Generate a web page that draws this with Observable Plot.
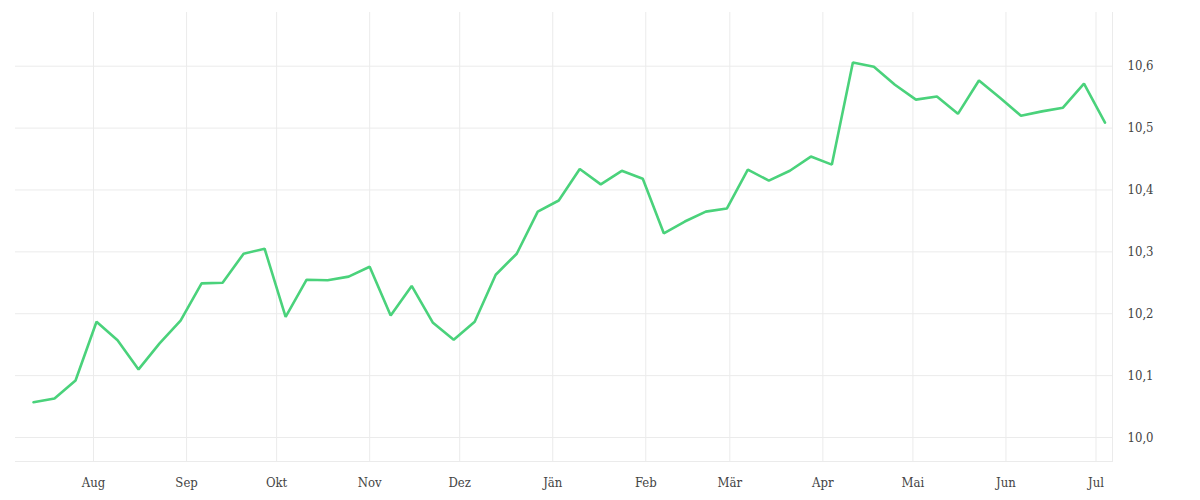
<!DOCTYPE html>
<html>
<head>
<meta charset="utf-8">
<script src="https://cdn.jsdelivr.net/npm/d3@7"></script>
<script src="https://cdn.jsdelivr.net/npm/@observablehq/plot@0.6"></script>
<style>
  html, body { margin: 0; padding: 0; background: #fff; }
  #chart { width: 1200px; height: 500px; }
</style>
</head>
<body>
<div id="chart"></div>
<script>
// Weekly observations (start date + 7 days each)
const startDate = "2022-07-12";
const values = [
  10.057, 10.063, 10.092, 10.187, 10.157, 10.110, 10.152, 10.189, 10.249, 10.250,
  10.297, 10.305, 10.195, 10.255, 10.254, 10.260, 10.276, 10.197, 10.245, 10.186,
  10.158, 10.187, 10.263, 10.297, 10.365, 10.383, 10.434, 10.409, 10.431, 10.418,
  10.330, 10.349, 10.365, 10.370, 10.433, 10.415, 10.431, 10.454, 10.441, 10.606,
  10.599, 10.570, 10.546, 10.551, 10.523, 10.577, 10.549, 10.520, 10.527, 10.533,
  10.572, 10.509
];
const monthLabels = ["Jän","Feb","Mär","Apr","Mai","Jun","Jul","Aug","Sep","Okt","Nov","Dez"];
const yTicks = [10.0, 10.1, 10.2, 10.3, 10.4, 10.5, 10.6];
const xDomain = ["2022-07-06", "2023-07-06T12:00"];
const yDomain = [9.9612, 10.6868];

const d0 = new Date(startDate + "T00:00");
const data = values.map((v, i) => ({date: d3.timeDay.offset(d0, 7 * i), value: v}));

const font = "'DejaVu Serif Condensed', 'DejaVu Serif', serif";
const gridColor = "#ebebeb";

const chart = Plot.plot({
  width: 1200,
  height: 500,
  marginLeft: 15,
  marginRight: 88,
  marginTop: 12,
  marginBottom: 39,
  style: {fontFamily: font, fontSize: "13px", color: "#444", background: "#fff"},
  x: {
    type: "utc",
    domain: xDomain.map(s => new Date(s)),
    ticks: d3.timeMonth.every(1),
    tickFormat: d => monthLabels[d.getMonth()],
    label: null
  },
  y: {
    domain: yDomain,
    ticks: yTicks,
    tickFormat: d => d.toFixed(1).replace(".", ","),
    label: null
  },
  marks: [
    Plot.gridX(d3.timeMonth.range(new Date(xDomain[0]), new Date(xDomain[1])), {stroke: gridColor, strokeOpacity: 1}),
    Plot.gridY(yTicks, {stroke: gridColor, strokeOpacity: 1}),
    Plot.frame({anchor: "bottom", stroke: gridColor}),
    Plot.frame({anchor: "right", stroke: gridColor}),
    Plot.axisX(d3.timeMonth.range(new Date(xDomain[0]), new Date(xDomain[1])), {
      tickSize: 0, tickPadding: 16, tickFormat: d => monthLabels[d.getMonth()], fill: "#444"
    }),
    Plot.axisY(yTicks, {
      anchor: "right", tickSize: 0, tickPadding: 15, textAnchor: "start",
      tickFormat: d => d.toFixed(1).replace(".", ","), fill: "#444"
    }),
    Plot.line(data, {x: "date", y: "value", stroke: "#4ad27b", strokeWidth: 2.6, strokeLinejoin: "miter"})
  ]
});
document.getElementById("chart").appendChild(chart);
</script>
</body>
</html>
